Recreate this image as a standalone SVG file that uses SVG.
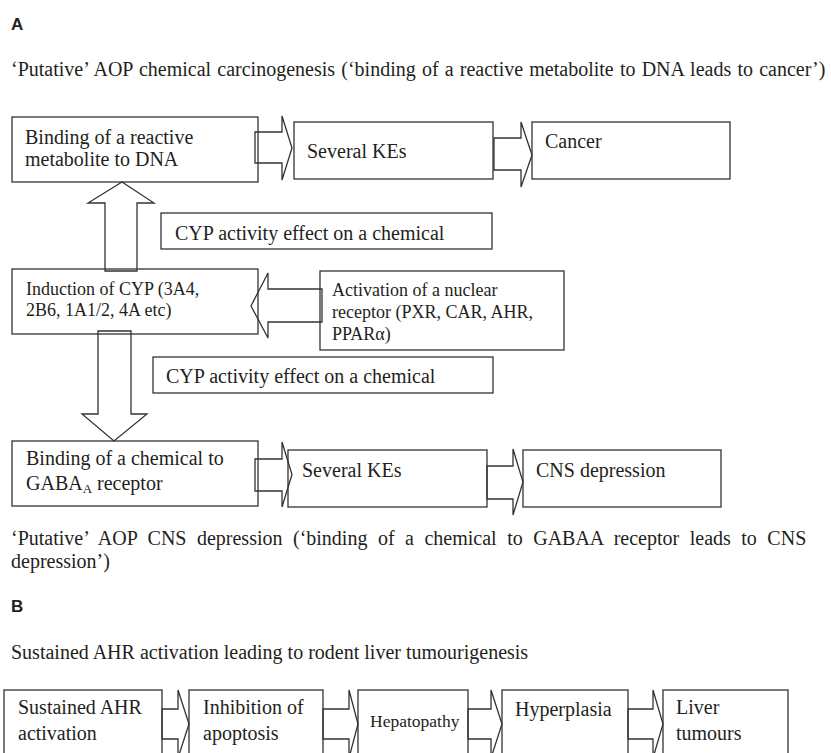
<svg xmlns="http://www.w3.org/2000/svg" width="831" height="753" viewBox="0 0 831 753">
<style>
.bx{fill:none;stroke:#333;stroke-width:1.3}
.ar{fill:none;stroke:#333;stroke-width:1.3;stroke-linejoin:miter}
text{font-family:"Liberation Serif","Times New Roman",serif;fill:#231f20;font-size:20px}
.s18{font-size:18px}
.s17{font-size:17.5px}
.lab{font-family:"Liberation Sans",Arial,sans-serif;font-weight:bold;font-size:17px}
</style>
<rect width="831" height="753" fill="#fff"/>
<text class="lab" x="11" y="30">A</text>
<text x="11" y="76" word-spacing="1.2">‘Putative’ AOP chemical carcinogenesis (‘binding of a reactive metabolite to DNA leads to cancer’)</text>

<g id="connectors">
<polygon class="ar" points="255,132 282,132 282,116 292,148 282,180 282,163 255,163"/>
<polygon class="ar" points="494,138 521,138 521,122 532,155 521,187 521,170 494,170"/>
<polygon class="ar" points="105,271 105,203 88,203 122,182 154,203 137,203 137,271"/>
<polygon class="ar" points="322,289 268,289 268,273 251,306 268,338 268,322 322,322"/>
<polygon class="ar" points="98,331 131,331 131,414 147,414 114,441 82,414 98,414"/>
<polygon class="ar" points="255,459 282,459 282,442 292,474.5 282,507 282,491 255,491"/>
<polygon class="ar" points="487,466 513,466 513,449 523,482 513,515 513,499 487,499"/>
<polygon class="ar" points="162,709 178,709 178,690 189,724 178,758 178,739 162,739"/>
<polygon class="ar" points="323,709 349,709 349,690 358,724 349,758 349,739 323,739"/>
<polygon class="ar" points="468,709 491,709 491,690 502,724 491,758 491,739 468,739"/>
<polygon class="ar" points="628,709 653,709 653,690 663,724 653,758 653,739 628,739"/>
</g>

<g id="n_binding_dna">
<rect class="bx" x="12" y="117" width="246" height="65"/>
<text x="25" y="144">Binding of a reactive</text>
<text x="25" y="166">metabolite to DNA</text>
</g>
<g id="n_kes1">
<rect class="bx" x="294" y="122" width="199" height="57"/>
<text x="307" y="158">Several KEs</text>
</g>
<g id="n_cancer">
<rect class="bx" x="532" y="122" width="198" height="57"/>
<text x="545" y="148">Cancer</text>
</g>
<g id="n_cyp1">
<rect class="bx" x="161" y="213" width="331" height="36"/>
<text x="175" y="240">CYP activity effect on a chemical</text>
</g>
<g id="n_induction">
<rect class="bx" x="12" y="269" width="246" height="65"/>
<text class="s18" x="26" y="295">Induction of CYP (3A4,</text>
<text class="s18" x="26" y="316">2B6, 1A1/2, 4A etc)</text>
</g>
<g id="n_activation">
<rect class="bx" x="320" y="271" width="244" height="79"/>
<text class="s18" x="332" y="296">Activation of a nuclear</text>
<text class="s18" x="332" y="318">receptor (PXR, CAR, AHR,</text>
<text class="s18" x="332" y="340">PPARα)</text>
</g>
<g id="n_cyp2">
<rect class="bx" x="153" y="357" width="340" height="36"/>
<text x="166" y="383">CYP activity effect on a chemical</text>
</g>
<g id="n_gaba">
<rect class="bx" x="12" y="441" width="246" height="65"/>
<text x="26" y="465">Binding of a chemical to</text>
<text x="26" y="490">GABA<tspan font-size="13" dy="3">A</tspan><tspan dy="-3"> receptor</tspan></text>
</g>
<g id="n_kes2">
<rect class="bx" x="288" y="450" width="199" height="57"/>
<text x="302" y="477">Several KEs</text>
</g>
<g id="n_cns">
<rect class="bx" x="523" y="450" width="198" height="57"/>
<text x="536" y="477">CNS depression</text>
</g>

<text x="11" y="545" word-spacing="5.5">‘Putative’ AOP CNS depression (‘binding of a chemical to GABAA receptor leads to CNS</text>
<text x="11" y="568">depression’)</text>
<text class="lab" x="11" y="612">B</text>
<text x="11" y="659">Sustained AHR activation leading to rodent liver tumourigenesis</text>

<g id="n_ahr">
<rect class="bx" x="4" y="690" width="158" height="80"/>
<text x="18" y="714">Sustained AHR</text>
<text x="18" y="740">activation</text>
</g>
<g id="n_apoptosis">
<rect class="bx" x="189" y="690" width="134" height="80"/>
<text x="203" y="714">Inhibition of</text>
<text x="203" y="740">apoptosis</text>
</g>
<g id="n_hepatopathy">
<rect class="bx" x="358" y="690" width="110" height="80"/>
<text class="s17" x="370" y="727">Hepatopathy</text>
</g>
<g id="n_hyperplasia">
<rect class="bx" x="502" y="690" width="126" height="80"/>
<text x="515" y="716">Hyperplasia</text>
</g>
<g id="n_liver">
<rect class="bx" x="663" y="690" width="125" height="80"/>
<text x="676" y="714">Liver</text>
<text x="676" y="740">tumours</text>
</g>
</svg>
